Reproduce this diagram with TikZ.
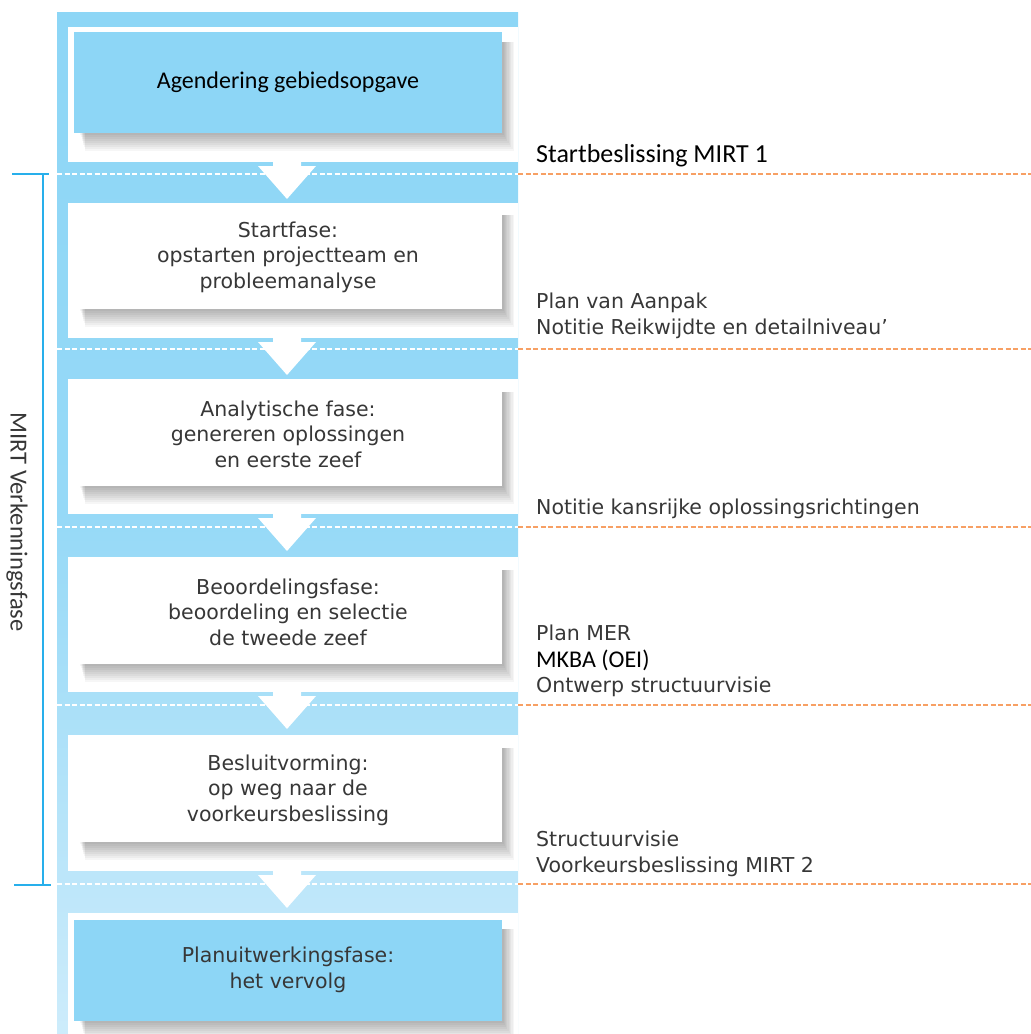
\documentclass[tikz,border=0pt]{standalone}
\usepackage{fontspec}
\setmainfont{DejaVu Sans}
\newfontfamily\calibrifont{Carlito}
\usetikzlibrary{calc, backgrounds}

\definecolor{mirtblue}{RGB}{141,214,246}
\definecolor{mirtpale}{RGB}{205,236,251}
\definecolor{mirtline}{RGB}{40,175,235}
\definecolor{mirtorange}{RGB}{247,160,100}
\definecolor{mirttext}{RGB}{55,55,55}

% witte pijl van paneel naar volgend paneel
\newcommand{\fasepijl}[1]{\fill[white] (#1) ++(-14,0) -- ++(28,0) -- ++(0,-4) -- ++(15,0)
	-- ++(-29,-33) -- ++(-29,33) -- ++(15,0) -- cycle;}
% zachte schaduw onder een fase
\newcommand{\schaduw}[1]{\begin{scope}[on background layer]
	\foreach \i in {1,...,9}
		\fill[black, opacity=0.036] ($(#1.south west)+(6+\i*0.6,-\i*2)$) rectangle ($(#1.north east)+(\i*1.3,-10)$);
	\end{scope}}

\begin{document}
\begin{tikzpicture}[x=1pt, y=1pt,
			fase/.style={fill=white, minimum width=428pt, minimum height=104pt, inner sep=0pt,
				align=center, text=mirttext, font=\fontsize{20.5}{25.5}\selectfont},
			mijlpaal/.style={fase, fill=mirtblue, minimum height=101pt},
			paneel/.style={fill=white},
			grens/.style={white, line width=1.2pt, dash pattern=on 5pt off 2.5pt},
			oranje/.style={mirtorange, line width=1.2pt, dash pattern=on 5pt off 2.5pt},
			besluit/.style={anchor=base west, inner sep=0pt, text=mirttext, font=\fontsize{20.5}{26}\selectfont},
			besluitcal/.style={besluit, text=black, font=\calibrifont\fontsize{24}{26}\selectfont}
			]
			\useasboundingbox (0,0) rectangle (1031,-1034);
			
			% kolom en panelen
			\begin{scope}[on background layer]
				\shade[top color=mirtblue, bottom color=mirtpale, middle color=mirtblue!85!mirtpale] (57,-12) rectangle (518,-1034);
				\fill[paneel] (68,-27) rectangle (518,-162);
				\fill[paneel] (68,-203) rectangle (518,-338);
				\fill[paneel] (68,-379) rectangle (518,-514);
				\fill[paneel] (68,-557) rectangle (518,-692);
				\fill[paneel] (68,-735) rectangle (518,-871);
				\fill[paneel] (68,-913) rectangle (518,-1034);
			\end{scope}
			
			% fasen
			\node[mijlpaal, font=\calibrifont\fontsize{24}{26}\selectfont, text=black] (agendering) at (288,-82.5) {Agendering gebiedsopgave};
			\node[fase] (startfase) at (288,-257) {Startfase:\\opstarten projectteam en\\probleemanalyse};
			\node[fase] (analyse) at (288,-434) {Analytische fase:\\genereren oplossingen\\en eerste zeef};
			\node[fase] (beoordeling) at (288,-612) {Beoordelingsfase:\\beoordeling en selectie\\de tweede zeef};
			\node[fase] (besluitvorming) at (288,-790) {Besluitvorming:\\op weg naar de\\voorkeursbeslissing};
			\node[mijlpaal] (planuitwerking) at (288,-970) {Planuitwerkingsfase:\\het vervolg};
			\schaduw{agendering}
			\schaduw{startfase}
			\schaduw{analyse}
			\schaduw{beoordeling}
			\schaduw{besluitvorming}
			\schaduw{planuitwerking}
			
			% fasegrenzen
			\draw[grens] (57,-174) -- (518,-174);
			\draw[grens] (57,-349) -- (518,-349);
			\draw[grens] (57,-527) -- (518,-527);
			\draw[grens] (57,-705) -- (518,-705);
			\draw[grens] (57,-884) -- (518,-884);
			\draw[oranje] (518,-174) -- (1031,-174);
			\draw[oranje] (518,-349) -- (1031,-349);
			\draw[oranje] (518,-527) -- (1031,-527);
			\draw[oranje] (518,-705) -- (1031,-705);
			\draw[oranje] (518,-884) -- (1031,-884);
			
			% pijlen
			\coordinate (uit1) at (287,-162);
			\coordinate (uit2) at (287,-338);
			\coordinate (uit3) at (287,-514);
			\coordinate (uit4) at (287,-692);
			\coordinate (uit5) at (287,-871);
			\fasepijl{uit1}
			\fasepijl{uit2}
			\fasepijl{uit3}
			\fasepijl{uit4}
			\fasepijl{uit5}
			
			% producten
			\node[besluitcal, font=\calibrifont\fontsize{26}{26}\selectfont] (mirt1) at (536,-162) {Startbeslissing MIRT 1};
			\node[besluit] (pva) at (536,-308) {Plan van Aanpak};
			\node[besluit] (nrd) at (536,-334) {Notitie Reikwijdte en detailniveau’};
			\node[besluit] (nko) at (536,-514) {Notitie kansrijke oplossingsrichtingen};
			\node[besluit] (mer) at (536,-640) {Plan MER};
			\node[besluitcal] (mkba) at (536,-667) {MKBA (OEI)};
			\node[besluit] (osv) at (536,-692) {Ontwerp structuurvisie};
			\node[besluit] (sv) at (536,-846) {Structuurvisie};
			\node[besluit] (mirt2) at (536,-872) {Voorkeursbeslissing MIRT 2};
			
			% verkenningsfase
			\coordinate (vtop) at (43,-174);
			\coordinate (vbot) at (43,-885);
			\draw[mirtline, line width=1.5pt] (12,-174) -- (49,-174);
			\draw[mirtline, line width=1.5pt] (vtop) -- (vbot);
			\draw[mirtline, line width=1.5pt] (14,-885) -- (51,-885);
			\node[rotate=-90, text=mirttext, font=\calibrifont\fontsize{24.5}{26}\selectfont] (verkenning) at (17,-522) {MIRT Verkenningsfase};
	\end{tikzpicture}
\end{document}
